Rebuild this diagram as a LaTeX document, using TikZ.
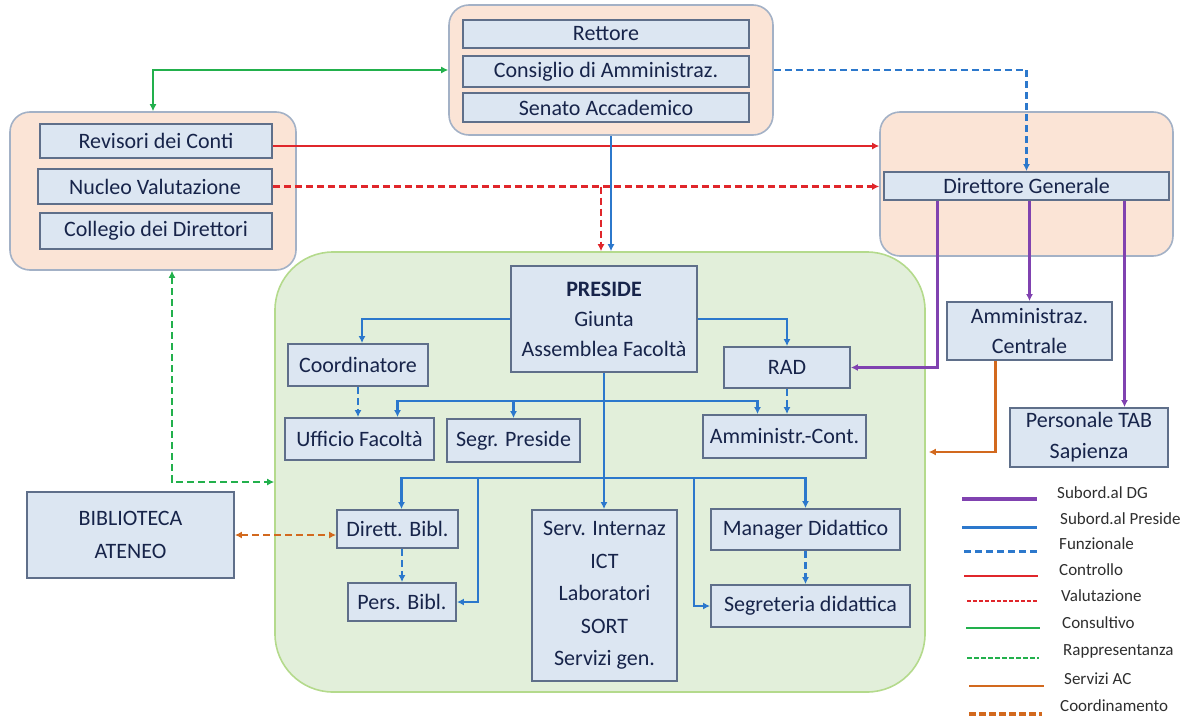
\documentclass[tikz,border=0pt]{standalone}
\usepackage{fontspec}
\setmainfont{Carlito}
\usetikzlibrary{arrows.meta,calc}
\definecolor{boxfill}{HTML}{DCE6F2}
\definecolor{boxdraw}{HTML}{5F6F8A}
\definecolor{txt}{HTML}{17244A}
\definecolor{peach}{HTML}{FBE4D6}
\definecolor{peachdraw}{HTML}{A3B1C6}
\definecolor{grnfill}{HTML}{E2EFDA}
\definecolor{grndraw}{HTML}{B4DA8C}
\definecolor{cpurple}{HTML}{8042B0}
\definecolor{cblue}{HTML}{2C78CC}
\definecolor{cred}{HTML}{E0262B}
\definecolor{cgreen}{HTML}{22B04C}
\definecolor{corange}{HTML}{D2691E}
\definecolor{legtxt}{HTML}{2E2E2E}
\begin{document}
\begin{tikzpicture}[x=1pt,y=-1pt,
  >={Latex[length=7pt,width=7pt]},
  box/.style={draw=boxdraw,line width=1.8pt,fill=boxfill,text=txt,font=\fontsize{22}{30}\selectfont,align=center,inner sep=0pt},
  grp/.style={draw=peachdraw,line width=1.6pt,fill=peach,rounded corners=20pt,inner sep=0pt},
  bigarea/.style={draw=grndraw,line width=1.6pt,fill=grnfill,rounded corners=58pt,inner sep=0pt},
  dgs/.style={draw=cpurple,line width=2.8pt},
  sub/.style={draw=cblue,line width=2.8pt},
  funz/.style={draw=cblue,line width=2.4pt,dash pattern=on 7pt off 4pt},
  ctrl/.style={draw=cred,line width=2.8pt},
  valut/.style={draw=cred,line width=2.6pt,dash pattern=on 7pt off 4pt},
  valutleg/.style={draw=cred,line width=2.2pt,dash pattern=on 4pt off 2pt},
  consu/.style={draw=cgreen,line width=2.6pt},
  rapp/.style={draw=cgreen,line width=2.6pt,dash pattern=on 7pt off 4pt},
  rappleg/.style={draw=cgreen,line width=2.8pt,dash pattern=on 5pt off 2pt},
  servac/.style={draw=corange,line width=2.6pt},
  coordl/.style={draw=corange,line width=2.8pt,dash pattern=on 7pt off 4pt},
  leg/.style={anchor=west,text=legtxt,font=\fontsize{17}{19}\selectfont,inner sep=0pt}]
\useasboundingbox (0,0) rectangle (1194,720);

% containers
\node[grp,minimum width=324pt,minimum height=130pt] (topgrp) at (611,70) {};
\node[grp,minimum width=286pt,minimum height=158pt] (lgrp) at (153,191) {};
\node[grp,minimum width=293pt,minimum height=144pt] (rgrp) at (1026.5,184) {};
\node[bigarea,minimum width=650pt,minimum height=440pt] (grn) at (600,472) {};

% top group
\node[box,minimum width=286pt,minimum height=28pt] (rett) at (606,34) {Rettore};
\node[box,minimum width=286pt,minimum height=31pt] (cons) at (606,71.5) {Consiglio di Amministraz.};
\node[box,minimum width=286pt,minimum height=29pt] (sen) at (606,107.5) {Senato Accademico};

% left group
\node[box,minimum width=232pt,minimum height=34pt] (rev) at (156,141) {Revisori dei Conti};
\node[box,minimum width=234pt,minimum height=35pt] (nuc) at (155,186.5) {Nucleo Valutazione};
\node[box,minimum width=232pt,minimum height=36pt] (coll) at (156,231) {Collegio dei Direttori};

% right group
\node[box,minimum width=285pt,minimum height=28pt] (dg) at (1026.5,186) {Direttore Generale};

% faculty
\node[box,minimum width=186pt,minimum height=106pt] (pres) at (604,319) {\textbf{PRESIDE}\\Giunta\\Assemblea Facoltà};
\node[box,minimum width=140pt,minimum height=42pt] (coord) at (358,365) {Coordinatore};
\node[box,minimum width=126pt,minimum height=41pt] (rad) at (787,367.5) {RAD};
\node[box,minimum width=149pt,minimum height=42pt] (uff) at (359.5,439) {Ufficio Facoltà};
\node[box,minimum width=133pt,minimum height=43pt] (segr) at (513.5,440.5) {Segr. Preside};
\node[box,minimum width=163pt,minimum height=43pt] (amm) at (784.5,436.5) {Amministr.-Cont.};
\node[box,minimum width=121pt,minimum height=38pt] (dbib) at (397.5,529) {Dirett. Bibl.};
\node[box,minimum width=108pt,minimum height=38pt] (pbib) at (402,602) {Pers. Bibl.};
\node[box,minimum width=145pt,minimum height=171pt,font=\fontsize{22}{32.5}\selectfont] (serv) at (604.5,595.5) {Serv. Internaz\\ICT\\Laboratori\\SORT\\Servizi gen.};
\node[box,minimum width=189pt,minimum height=41pt] (mgr) at (805.5,529.5) {Manager Didattico};
\node[box,minimum width=199pt,minimum height=42pt] (segd) at (810.5,606) {Segreteria didattica};

% outside
\node[box,minimum width=165pt,minimum height=58pt] (amc) at (1029.5,331) {Amministraz.\\Centrale};
\node[box,minimum width=158pt,minimum height=59pt,font=\fontsize{22}{31}\selectfont] (tab) at (1089,437.5) {Personale TAB\\Sapienza};
\node[box,minimum width=207pt,minimum height=86pt,font=\fontsize{22}{33}\selectfont] (bib) at (130.5,535) {BIBLIOTECA\\ATENEO};

% connectors: top level
\draw[consu,<->] (lgrp.north) |- (topgrp.west);
\draw[funz,->] (topgrp.east) -| (dg.north);
\draw[ctrl,->] ($(rev.east)+(0,5)$) coordinate (r1) -- (r1 -| rgrp.west);
\draw[valut,->] (nuc.east) -- (nuc.east -| rgrp.west);
\draw[valut,->] ($(nuc.east -| topgrp.south)+(-10,0)$) coordinate (v1) -- (v1 |- grn.north);
\draw[sub,->] (topgrp.south) -- (topgrp.south |- grn.north);

% DG subordination
\draw[dgs,->] ($(dg.south)+(-89,0)$) |- (rad.east);
\draw[dgs,->] (dg.south -| amc.north) -- (amc.north);
\draw[dgs,->] ($(dg.south)+(98,0)$) coordinate (p3) -- (p3 |- tab.north);

% services AC
\draw[servac,->] ($(amc.south)+(-34,0)$) |- ($(grn.east)+(3,-20)$) coordinate (acend);

% representation
\draw[rapp,<->] ($(lgrp.south)+(19,0)$) |- ($(grn.west)+(0,10)$) coordinate (rpend);

% coordination
\draw[coordl,<->] (bib.east) -- (bib.east -| dbib.west);

% Preside tree
\draw[sub,->] (pres.west) -| ($(coord.north)+(4,0)$);
\draw[sub,->] (pres.east) -| (rad.north);
\draw[funz,->] (coord.south) -- (coord.south |- uff.north);
\coordinate (b1) at ($(pres.south)+(0,28)$);
\coordinate (b2) at ($(pres.south)+(0,105)$);
\draw[sub] (pres.south) -- (b1);
\draw[sub,->] (b1) -| ($(uff.north)+(38,0)$);
\draw[sub,->] (b1) -| (segr.north);
\draw[sub,->] (b1) -| ($(amm.north)+(-27,0)$);
\draw[funz,->] (rad.south) -- (rad.south |- amm.north);
\draw[sub] (b1) -- (b2);
\draw[sub,->] (b2) -| ($(dbib.north)+(4,0)$);
\draw[sub,->] (b2) -- (b2 |- serv.north);
\draw[sub,->] (b2) -| (mgr.north);
\coordinate (b3) at ($(b2)+(-126,0)$);
\coordinate (b4) at ($(b2)+(90,0)$);
\draw[sub,->] (b3) |- (pbib.east);
\draw[sub,->] (b4) |- (segd.west);
\draw[funz,->] (pbib.north |- dbib.south) -- (pbib.north);
\draw[funz,->] (mgr.south) -- (mgr.south |- segd.north);

% legend
\coordinate (la1) at (962,499); \coordinate (lb1) at (1037,499);
\draw[dgs,line width=3.2pt] (la1) -- (lb1);
\node[leg] (t1) at (1057,493) {Subord.al DG};
\coordinate (la2) at (962,527); \coordinate (lb2) at (1037,527);
\draw[sub,line width=3pt] (la2) -- (lb2);
\node[leg] (t2) at (1060,519) {Subord.al Preside};
\coordinate (la3) at (964,551); \coordinate (lb3) at (1037,551);
\draw[funz,line width=3pt] (la3) -- (lb3);
\node[leg] (t3) at (1059,544) {Funzionale};
\coordinate (la4) at (964,576); \coordinate (lb4) at (1038,576);
\draw[ctrl,line width=2.8pt] (la4) -- (lb4);
\node[leg] (t4) at (1059,570) {Controllo};
\coordinate (la5) at (967,601); \coordinate (lb5) at (1038,601);
\draw[valutleg] (la5) -- (lb5);
\node[leg] (t5) at (1061,596) {Valutazione};
\coordinate (la6) at (966,628); \coordinate (lb6) at (1040,628);
\draw[consu,line width=2.8pt] (la6) -- (lb6);
\node[leg] (t6) at (1062,623) {Consultivo};
\coordinate (la7) at (967,658); \coordinate (lb7) at (1039,658);
\draw[rappleg] (la7) -- (lb7);
\node[leg] (t7) at (1063,651) {Rappresentanza};
\coordinate (la8) at (969,686); \coordinate (lb8) at (1044,686);
\draw[servac,line width=2.8pt] (la8) -- (lb8);
\node[leg] (t8) at (1064,679) {Servizi AC};
\coordinate (la9) at (969,714); \coordinate (lb9) at (1042,714);
\draw[coordl,line width=3.2pt,dash pattern=on 7pt off 3pt] (la9) -- (lb9);
\node[leg] (t9) at (1060,706) {Coordinamento};
\end{tikzpicture}
\end{document}
